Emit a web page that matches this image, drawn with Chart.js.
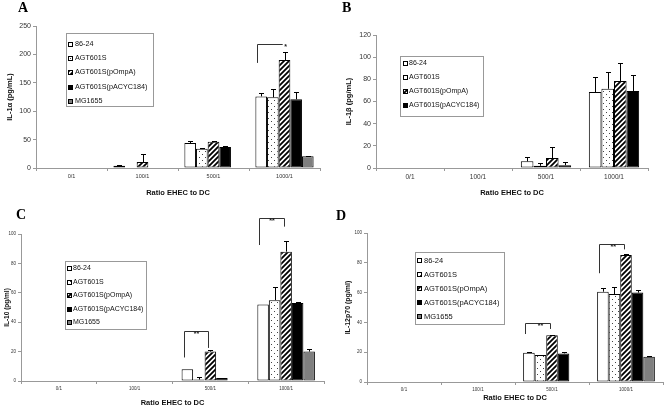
<!DOCTYPE html>
<html>
<head>
<meta charset="utf-8">
<script src="https://cdn.jsdelivr.net/npm/chart.js@4.4.1/dist/chart.umd.min.js"></script>
<style>
html, body { margin: 0; padding: 0; background: #fff; }
body { width: 664px; height: 409px; position: relative; overflow: hidden; }
.panel { position: absolute; width: 332px; }
.panel canvas { display: block; }
.letter { position: absolute; font-family: "Liberation Serif", "Times New Roman", serif; font-weight: bold; font-size: 14px; line-height: 14px; color: #000; }
</style>
</head>
<body>
<div class="panel" style="left:0;top:0;height:205px"><canvas id="chartA" width="332" height="205"></canvas></div>
<div class="panel" style="left:332px;top:0;height:205px"><canvas id="chartB" width="332" height="205"></canvas></div>
<div class="panel" style="left:0;top:205px;height:204px"><canvas id="chartC" width="332" height="204"></canvas></div>
<div class="panel" style="left:332px;top:205px;height:204px"><canvas id="chartD" width="332" height="204"></canvas></div>
<div class="letter" style="left:18px;top:1px">A</div>
<div class="letter" style="left:342px;top:1px">B</div>
<div class="letter" style="left:16px;top:208px">C</div>
<div class="letter" style="left:336px;top:209px">D</div>
<script>
// ---- data ----
var categories = ['0/1', '100/1', '500/1', '1000/1'];
var strains = ['86-24', 'AGT601S', 'AGT601S(pOmpA)', 'AGT601S(pACYC184)', 'MG1655'];

// IL-1a, rows = strains, cols = categories
var il1aMeans = [[0, 4, 44, 126], [0, 0, 34, 124.5], [0, 10.5, 46, 190], [0, 0, 37, 121], [0, 0, 0, 20.5]];
var il1aErrs  = [[0, 2, 3, 6], [0, 0, 2, 15], [0, 14, 2, 15], [0, 0, 1, 12], [0, 0, 0, 1.5]];
var il1aTicks = [0, 50, 100, 150, 200, 250];

// IL-1b (no MG1655)
var il1bMeans = [[0, 0, 6, 68.5], [0, 0, 2, 71.5], [0, 0, 9, 78.5], [0, 0, 2.5, 69.5]];
var il1bErrs  = [[0, 0, 4, 13.5], [0, 0, 2.5, 15], [0, 0, 10, 16.5], [0, 0, 2.5, 14.5]];
var il1bTicks = [0, 20, 40, 60, 80, 100, 120];

// IL-10
var il10Means = [[0, 0, 8, 52], [0, 0, 1, 55], [0, 0, 20, 88], [0, 0, 2, 53], [0, 0, 0, 20]];
var il10Errs  = [[0, 0, 0, 0], [0, 0, 2, 9], [0, 0, 1, 7], [0, 0, 0, 0.5], [0, 0, 0, 2]];
var il10Ticks = [0, 20, 40, 60, 80, 100];

// IL-12p70
var il12Means = [[0, 0, 19.7, 60.6], [0, 0, 18.1, 59], [0, 0, 31.3, 85.2], [0, 0, 19.2, 60], [0, 0, 0, 17]];
var il12Errs  = [[0, 0, 0.6, 2.3], [0, 0, 0, 4.5], [0, 0, 0.3, 0.7], [0, 0, 0.7, 1.7], [0, 0, 0, 0.7]];
var il12Ticks = [0, 20, 40, 60, 80, 100];

// significance brackets: category, first/last strain, line heights (data units)
var il1aSig = [{ cat: 3, from: 0, to: 2, y: 218, yl: 185, yr: 218, text: '*', at: 1 }];
var il10Sig = [{ cat: 2, from: 0, to: 2, y: 34, yl: 16, yr: 22.5, text: '**', at: 0.5 },
               { cat: 3, from: 0, to: 2, y: 111, yl: 92.5, yr: 105, text: '**', at: 0.5 }];
var il12Sig = [{ cat: 2, from: 0, to: 2, y: 39.6, yl: 32.2, yr: 35.6, text: '**', at: 0.6 },
               { cat: 3, from: 0, to: 2, y: 92.6, yl: 73, yr: 89, text: '**', at: 0.55 }];

var FONT = '"Liberation Sans", Arial, sans-serif';
Chart.defaults.font.family = FONT;
Chart.defaults.color = '#222';

// ---- fills ----
function makeDots() {
	var c = document.createElement('canvas');
	c.width = 6; c.height = 6;
	var g = c.getContext('2d');
	g.fillStyle = '#fff';
	g.fillRect(0, 0, 6, 6);
	g.fillStyle = '#444';
	g.fillRect(1, 1, 1, 1);
	g.fillRect(4, 4, 1, 1);
	return g.createPattern(c, 'repeat');
}

function makeHatch() {
	var c = document.createElement('canvas');
	c.width = 5; c.height = 5;
	var g = c.getContext('2d');
	g.fillStyle = '#fff';
	g.fillRect(0, 0, 5, 5);
	g.strokeStyle = '#000';
	g.lineWidth = 1.8;
	g.beginPath();
	g.moveTo(-1, 6); g.lineTo(6, -1);
	g.moveTo(-1, 1); g.lineTo(1, -1);
	g.moveTo(4, 6); g.lineTo(6, 4);
	g.stroke();
	return g.createPattern(c, 'repeat');
}

var fills = ['#ffffff', makeDots(), makeHatch(), '#000000', '#7f7f7f'];

// ---- plugins ----
var errorBars = {
	id: 'errorBars',
	afterDatasetsDraw: function (chart) {
		var yScale = chart.scales.y;
		var ctx = chart.ctx;
		ctx.save();
		ctx.strokeStyle = '#000';
		ctx.lineWidth = 1;
		chart.data.datasets.forEach(function (ds, i) {
			var meta = chart.getDatasetMeta(i);
			meta.data.forEach(function (bar, j) {
				var e = ds.errors[j];
				if (!e) return;
				var top = Math.round(yScale.getPixelForValue(ds.data[j] + e)) + 0.5;
				var x = Math.round(bar.x) + 0.5;
				ctx.beginPath();
				ctx.moveTo(x, bar.y);
				ctx.lineTo(x, top);
				ctx.moveTo(x - 2.5, top);
				ctx.lineTo(x + 2.5, top);
				ctx.stroke();
			});
		});
		ctx.restore();
	}
};

var sigBrackets = {
	id: 'sigBrackets',
	afterDatasetsDraw: function (chart, args, opts) {
		var items = opts.items || [];
		var yScale = chart.scales.y;
		var ctx = chart.ctx;
		ctx.save();
		ctx.strokeStyle = '#333';
		ctx.fillStyle = '#222';
		ctx.lineWidth = 1;
		ctx.font = 'bold 7px ' + FONT;
		ctx.textAlign = 'center';
		ctx.textBaseline = 'alphabetic';
		items.forEach(function (b) {
			var a = chart.getDatasetMeta(b.from).data[b.cat];
			var c = chart.getDatasetMeta(b.to).data[b.cat];
			var x1 = Math.round(a.x - a.width * 0.33) + 0.5;
			var x2 = Math.round(c.x - c.width * 0.2) + 0.5;
			var yh = Math.round(yScale.getPixelForValue(b.y)) + 0.5;
			var yl = yScale.getPixelForValue(b.yl);
			var yr = yScale.getPixelForValue(b.yr);
			ctx.beginPath();
			ctx.moveTo(x1, yl);
			ctx.lineTo(x1, yh);
			ctx.lineTo(x2, yh);
			ctx.lineTo(x2, yr);
			ctx.stroke();
			ctx.fillText(b.text, x1 + (x2 - x1) * b.at + (b.at == 1 ? 3 : 0), yh + 4.5);
		});
		ctx.restore();
	}
};

var boxLegend = {
	id: 'boxLegend',
	afterDraw: function (chart, args, o) {
		if (!o || !o.w) return;
		var ctx = chart.ctx;
		ctx.save();
		ctx.fillStyle = '#fff';
		ctx.fillRect(o.x, o.y, o.w, o.h);
		ctx.strokeStyle = '#999';
		ctx.lineWidth = 1;
		ctx.strokeRect(o.x + 0.5, o.y + 0.5, o.w, o.h);
		ctx.font = o.size + 'px ' + FONT;
		ctx.textBaseline = 'middle';
		chart.data.datasets.forEach(function (ds, i) {
			var cy = Math.round(o.y + o.first + i * o.step);
			var sx = o.x + o.sx;
			ctx.fillStyle = ds.backgroundColor;
			ctx.fillRect(sx, cy - 2, 5, 5);
			ctx.strokeStyle = '#000';
			ctx.strokeRect(sx + 0.5, cy - 1.5, 4, 4);
			ctx.fillStyle = '#111';
			ctx.fillText(ds.label, o.x + o.tx, cy + 0.5);
		});
		ctx.restore();
	}
};

// ---- chart builder ----
function _setDatasets(means, errs, cp) {
	return means.map(function (row, i) {
		return {
			label: strains[i],
			data: row,
			errors: errs[i],
			backgroundColor: fills[i],
			borderColor: '#000',
			borderWidth: 1,
			borderSkipped: false,
			barPercentage: 1,
			categoryPercentage: cp
		};
	});
}

function createChart(id, p) {
	var ticks = p.ticks;
	return new Chart(document.getElementById(id), {
		type: 'bar',
		data: { labels: categories, datasets: _setDatasets(p.means, p.errs, p.cp) },
		plugins: [errorBars, sigBrackets, boxLegend],
		options: {
			responsive: false,
			animation: false,
			layout: { padding: p.pad },
			plugins: {
				legend: { display: false },
				tooltip: { enabled: false },
				sigBrackets: { items: p.sig },
				boxLegend: p.legend
			},
			scales: {
				x: {
					ticks: { font: { size: p.xTick }, color: '#333', padding: p.xTickPad, maxRotation: 0, autoSkip: false },
					grid: { drawOnChartArea: false, offset: true, tickLength: 3, color: '#999' },
					border: { color: '#999' },
					title: {
						display: true, text: 'Ratio EHEC to DC', color: '#111',
						font: { size: p.xTitle, weight: 'bold' },
						padding: { top: 0, bottom: p.xTitlePad }
					},
					afterFit: function (s) { s.height = p.xH; }
				},
				y: {
					min: ticks[0],
					max: ticks[ticks.length - 1],
					afterBuildTicks: function (s) {
						s.ticks = ticks.map(function (v) { return { value: v }; });
					},
					ticks: { font: { size: p.yTick }, color: '#333', padding: 2 },
					grid: { drawOnChartArea: false, tickLength: 3, color: '#999' },
					border: { color: '#999' },
					title: {
						display: true, text: p.yTitle, color: '#111',
						font: { size: p.yTitleSize, weight: 'bold' },
						padding: { top: p.yTitlePad, bottom: 0 }
					},
					afterFit: function (s) { s.width = p.yW; }
				}
			}
		}
	});
}

createChart('chartA', {
	means: il1aMeans, errs: il1aErrs, ticks: il1aTicks, sig: il1aSig, cp: 0.82,
	pad: { left: 0, top: 26, right: 12, bottom: 0 }, yW: 36, xH: 37,
	yTitle: 'IL-1\u03b1 (pg/mL)', yTitleSize: 7.5, yTitlePad: 5.5,
	xTitle: 7.5, xTitlePad: 7.5, yTick: 7, xTick: 5.5, xTickPad: 2,
	legend: { x: 66, y: 33, w: 87, h: 73, first: 11, step: 14.2, sx: 2, tx: 9, size: 7.2 }
});

createChart('chartB', {
	means: il1bMeans, errs: il1bErrs, ticks: il1bTicks, sig: [], cp: 0.74,
	pad: { left: 0, top: 35, right: 16, bottom: 0 }, yW: 44, xH: 37,
	yTitle: 'IL-1\u03b2 (pg/mL)', yTitleSize: 7.5, yTitlePad: 12.5,
	xTitle: 7.5, xTitlePad: 7.5, yTick: 7, xTick: 6.5, xTickPad: 2,
	legend: { x: 68, y: 56, w: 83, h: 60, first: 6.5, step: 14, sx: 3, tx: 9, size: 7 }
});

createChart('chartC', {
	means: il10Means, errs: il10Errs, ticks: il10Ticks, sig: il10Sig, cp: 0.76,
	pad: { left: 0, top: 29, right: 8, bottom: 0 }, yW: 21, xH: 28,
	yTitle: 'IL-10 (pg/ml)', yTitleSize: 6.5, yTitlePad: 3,
	xTitle: 7.5, xTitlePad: 1.5, yTick: 4.5, xTick: 4.5, xTickPad: 2,
	legend: { x: 65, y: 56, w: 81, h: 68, first: 7, step: 13.5, sx: 2, tx: 8, size: 7 }
});

createChart('chartD', {
	means: il12Means, errs: il12Errs, ticks: il12Ticks, sig: il12Sig, cp: 0.78,
	pad: { left: 0, top: 28, right: 1, bottom: 0 }, yW: 35, xH: 27,
	yTitle: 'IL-12p70 (pg/ml)', yTitleSize: 7, yTitlePad: 11.5,
	xTitle: 7.5, xTitlePad: 6.5, yTick: 4.5, xTick: 4.5, xTickPad: 2,
	legend: { x: 83, y: 47, w: 89, h: 72, first: 8, step: 14, sx: 2, tx: 9, size: 7.5 }
});
</script>
</body>
</html>
